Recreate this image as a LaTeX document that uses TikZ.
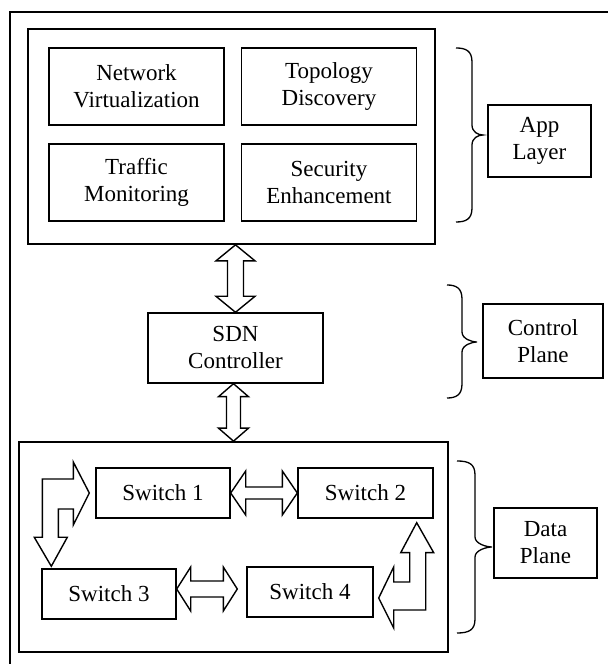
\documentclass[tikz,border=0pt]{standalone}
\usepackage{fontspec}
\setmainfont{Liberation Serif}
\usetikzlibrary{calc}
\tikzset{
  box/.style={draw, line width=1.4pt, inner sep=0pt, align=center,
    font=\fontsize{23}{27}\selectfont},
  frame/.style={draw, line width=1.7pt, inner sep=0pt},
  blk/.style={draw, line width=1.4pt, fill=white, line join=miter},
  brc/.style={draw, line width=1.3pt},
}
% vertical double block arrow: #1 top, #2 bottom, #3 half shaft, #4 half head, #5 head length
\newcommand\vblk[5]{\path[blk] let \p1=(#1), \p2=(#2) in
  (\x1,\y1) -- (\x1+#4,\y1-#5) -- (\x1+#3,\y1-#5) -- (\x1+#3,\y2+#5) -- (\x1+#4,\y2+#5)
  -- (\x1,\y2) -- (\x1-#4,\y2+#5) -- (\x1-#3,\y2+#5) -- (\x1-#3,\y1-#5) -- (\x1-#4,\y1-#5) -- cycle;}
% horizontal double block arrow: #1 left, #2 right
\newcommand\hblk[5]{\path[blk] let \p1=(#1), \p2=(#2) in
  (\x1,\y1) -- (\x1+#5,\y1+#4) -- (\x1+#5,\y1+#3) -- (\x2-#5,\y1+#3) -- (\x2-#5,\y1+#4)
  -- (\x2,\y1) -- (\x2-#5,\y1-#4) -- (\x2-#5,\y1-#3) -- (\x1+#5,\y1-#3) -- (\x1+#5,\y1-#4) -- cycle;}
% word-style brace: xe end, xm vertical, xt tip, yt top, ym tip, yb bottom
\newcommand\wbrace[6]{\path[brc]
  (#1,#4) .. controls (#2-6,#4) and (#2,#4-3) .. (#2,#4-14)
  -- (#2,#5+10) .. controls (#2,#5+3) and (#3-5,#5) .. (#3,#5)
  .. controls (#3-5,#5) and (#2,#5-3) .. (#2,#5-10)
  -- (#2,#6+14) .. controls (#2,#6+3) and (#2-6,#6) .. (#1,#6);}
\begin{document}
\begin{tikzpicture}[x=1pt,y=1pt]
\useasboundingbox (0,0) rectangle (608,664);
% outer (cropped) frame
\draw[line width=1.8pt] (10,0) -- (10,652) -- (608,652);

% application layer
\node[frame, minimum width=407, minimum height=215] (app) at (231.5,527.5) {};
\node[box, minimum width=175, minimum height=77] (nv) at (136.5,577.5) {Network\\Virtualization};
\node[box, minimum width=175, minimum height=77] (td) at (329,577.5) {Topology\\Discovery};
\node[box, minimum width=175, minimum height=77] (tm) at (136.5,481.5) {Traffic\\Monitoring};
\node[box, minimum width=175, minimum height=77] (se) at (329,481.5) {Security\\Enhancement};

% control
\node[box, minimum width=175, minimum height=70] (sdn) at (235.5,316) {SDN\\Controller};

% data plane
\node[frame, minimum width=429, minimum height=210] (data) at (233.5,117) {};
\node[box, minimum width=134, minimum height=50] (s1) at (163,171) {Switch 1};
\node[box, minimum width=135, minimum height=50] (s2) at (365.5,171) {Switch 2};
\node[box, minimum width=134, minimum height=50] (s3) at (109,70) {Switch 3};
\node[box, minimum width=126, minimum height=50] (s4) at (310,72) {Switch 4};

% labels
\node[box, minimum width=103, minimum height=72] (lapp) at (539.5,523) {App\\Layer};
\node[box, minimum width=120, minimum height=74] (lctl) at (543,323) {Control\\Plane};
\node[box, minimum width=103, minimum height=70] (ldat) at (545.5,121) {Data\\Plane};

% braces
\wbrace{456}{472}{483}{616}{529}{442}
\wbrace{447}{462}{477}{379}{322}{266}
\wbrace{457}{475}{492}{203}{117}{31}

% block arrows
\coordinate (a1t) at (app.south -| sdn.north);
\vblk{a1t}{sdn.north}{8}{19.5}{16}
\coordinate (a2t) at (sdn.south -| data.north);
\vblk{a2t}{data.north}{7}{15}{13}
\hblk{s1.east}{s2.west}{6}{22}{15}
\coordinate (a4l) at ($(s3.east)+(0,5)$);
\coordinate (a4r) at ($(s4.west)+(-9,0)$);
\hblk{a4l}{a4r}{8}{22}{14}

% bent arrow switch 1 <-> switch 3
\coordinate (l1) at ($(s1.west)+(-6,0)$);
\coordinate (l3) at ($(s3.north west)+(10,2)$);
\path[blk] let \p1=(l1), \p2=(l3) in
  (\x1-16,\y1+31) -- (\x1,\y1) -- (\x1-16,\y1-32) -- (\x1-16,\y1-16) -- (\x2+7,\y1-16)
  -- (\x2+7,\y2+29) -- (\x2+16,\y2+29) -- (\x2,\y2) -- (\x2-17,\y2+29) -- (\x2-9,\y2+29)
  -- (\x2-9,\y1+14) -- (\x1-16,\y1+14) -- cycle;

% bent arrow switch 2 <-> switch 4
\coordinate (r2) at ($(s2.south east)+(-17,-4)$);
\coordinate (r4) at ($(s4.east)+(5,-6)$);
\path[blk] let \p1=(r2), \p2=(r4) in
  (\x1-7,\y1-30) -- (\x1-16,\y1-30) -- (\x1,\y1) -- (\x1+17,\y1-30) -- (\x1+9,\y1-30)
  -- (\x1+9,\y2-12) -- (\x2+15,\y2-12) -- (\x2+15,\y2-30) -- (\x2,\y2) -- (\x2+15,\y2+31)
  -- (\x2+15,\y2+16) -- (\x1-7,\y2+16) -- cycle;
\end{tikzpicture}
\end{document}
